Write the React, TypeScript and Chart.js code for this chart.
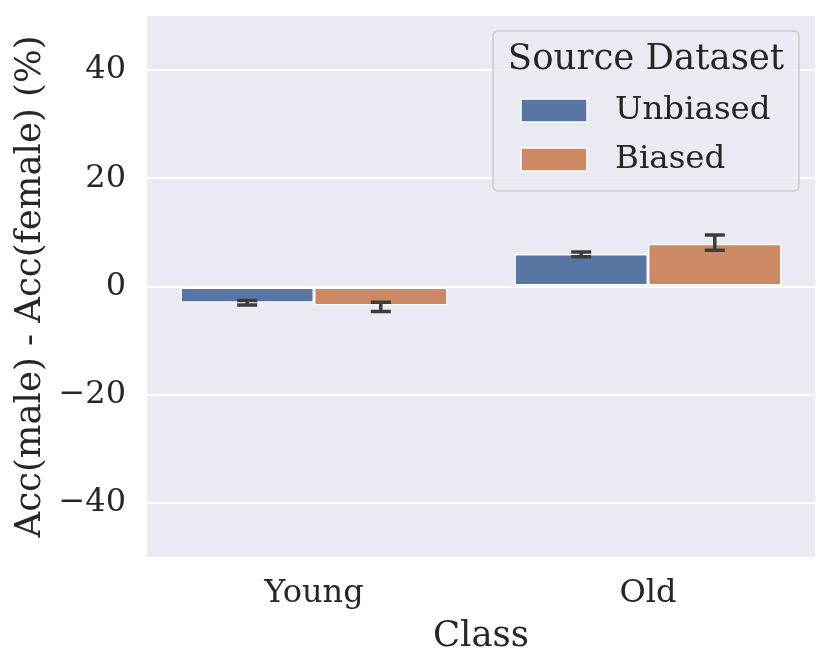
import { useEffect, useRef } from "react";
import { Chart, registerables } from "chart.js";

Chart.register(...registerables);

const categories = ["Young", "Old"];
const seriesNames = ["Unbiased", "Biased"];
const unbiased = [-3.0, 6.0];
const unbiasedLow = [-3.4, 5.5];
const unbiasedHigh = [-2.6, 6.4];
const biased = [-3.5, 7.9];
const biasedLow = [-4.6, 6.7];
const biasedHigh = [-2.9, 9.5];
const yTicks = [-40, -20, 0, 20, 40];

const errLow = [unbiasedLow, biasedLow];
const errHigh = [unbiasedHigh, biasedHigh];
const colors = ["#5975a4", "#cc8963"];
const FONT = "'DejaVu Serif', serif";

const bgPlugin = {
  id: "bg",
  beforeDraw(chart: any) {
    const { ctx, chartArea: a } = chart;
    ctx.save();
    ctx.fillStyle = "#eaeaf2";
    ctx.fillRect(a.left, a.top, a.right - a.left, a.bottom - a.top);
    ctx.restore();
  },
};

const errorBars = {
  id: "errorBars",
  afterDatasetsDraw(chart: any) {
    const { ctx } = chart;
    const y = chart.scales.y;
    ctx.save();
    ctx.strokeStyle = "#3d3d3d";
    ctx.lineWidth = 3.5;
    ctx.lineCap = "butt";
    chart.data.datasets.forEach((_: any, i: number) => {
      const meta = chart.getDatasetMeta(i);
      meta.data.forEach((bar: any, j: number) => {
        const lo = y.getPixelForValue(errLow[i][j]);
        const hi = y.getPixelForValue(errHigh[i][j]);
        ctx.beginPath();
        ctx.moveTo(bar.x, lo);
        ctx.lineTo(bar.x, hi);
        ctx.moveTo(bar.x - 10, lo);
        ctx.lineTo(bar.x + 10, lo);
        ctx.moveTo(bar.x - 10, hi);
        ctx.lineTo(bar.x + 10, hi);
        ctx.stroke();
      });
    });
    ctx.restore();
  },
};

const legendBox = {
  id: "legendBox",
  afterDraw(chart: any) {
    const { ctx, chartArea: a } = chart;
    const left = a.right - 322;
    const top = a.top + 15;
    const w = 306;
    const h = 160;
    ctx.save();
    ctx.fillStyle = "rgba(234,234,242,0.8)";
    ctx.strokeStyle = "#cccccc";
    ctx.lineWidth = 1.5;
    ctx.beginPath();
    ctx.roundRect(left, top, w, h, 5);
    ctx.fill();
    ctx.stroke();
    ctx.fillStyle = "#262626";
    ctx.textBaseline = "middle";
    ctx.textAlign = "center";
    ctx.font = `35.5px ${FONT}`;
    ctx.fillText("Source Dataset", left + w / 2, top + 29);
    ctx.textAlign = "left";
    ctx.font = `32.5px ${FONT}`;
    seriesNames.forEach((name, i) => {
      const cy = top + 79 + i * 49;
      ctx.fillStyle = colors[i];
      ctx.fillRect(left + 28, cy - 11, 66, 23);
      ctx.strokeStyle = "#ffffff";
      ctx.lineWidth = 1.5;
      ctx.strokeRect(left + 28, cy - 11, 66, 23);
      ctx.fillStyle = "#262626";
      ctx.fillText(name, left + 122, cy + 1);
    });
    ctx.restore();
  },
};

export default function App() {
  const ref = useRef<HTMLCanvasElement | null>(null);
  const chartRef = useRef<Chart | null>(null);

  useEffect(() => {
    if (!ref.current) return;
    if (chartRef.current) chartRef.current.destroy();
    chartRef.current = new Chart(ref.current, {
      type: "bar",
      data: {
        labels: categories,
        datasets: [
          {
            label: seriesNames[0],
            data: unbiased,
            backgroundColor: colors[0],
            borderColor: "#ffffff",
            borderWidth: 1.5,
            borderSkipped: false,
          },
          {
            label: seriesNames[1],
            data: biased,
            backgroundColor: colors[1],
            borderColor: "#ffffff",
            borderWidth: 1.5,
            borderSkipped: false,
          },
        ],
      },
      options: {
        animation: false,
        responsive: true,
        maintainAspectRatio: false,
        layout: { padding: { top: 16, right: 15, left: 0, bottom: 0 } },
        datasets: { bar: { categoryPercentage: 0.8, barPercentage: 1 } },
        plugins: { legend: { display: false }, tooltip: { enabled: false } },
        scales: {
          x: {
            grid: { display: false },
            border: { display: false },
            ticks: { color: "#262626", font: { family: FONT, size: 32 }, padding: 9 },
            title: {
              display: true,
              text: "Class",
              color: "#262626",
              font: { family: FONT, size: 35.5 },
              padding: { top: 0, bottom: 10 },
            },
            afterFit(s: any) {
              s.height = 111;
              s.paddingLeft = 0;
              s.paddingRight = 0;
            },
          },
          y: {
            min: -50,
            max: 50,
            afterBuildTicks(s: any) {
              s.ticks = yTicks.map((v) => ({ value: v }));
            },
            grid: { color: "#ffffff", lineWidth: 2, drawTicks: false },
            border: { display: false },
            ticks: {
              color: "#262626",
              font: { family: FONT, size: 32 },
              padding: 21,
              callback: (v: any) => (v < 0 ? "\u2212" + Math.abs(v) : String(v)),
            },
            title: {
              display: true,
              text: "Acc(male) - Acc(female) (%)",
              color: "#262626",
              font: { family: FONT, size: 35.5 },
              padding: { top: 9, bottom: 0 },
            },
            afterFit(s: any) {
              s.width = 147;
              s.paddingTop = 0;
              s.paddingBottom = 0;
            },
          },
        },
      },
      plugins: [bgPlugin, errorBars, legendBox],
    });
    return () => {
      if (chartRef.current) chartRef.current.destroy();
    };
  }, []);

  return (
    <div
      style={{
        position: "fixed",
        left: 0,
        top: 0,
        width: 830,
        height: 668,
        background: "#ffffff",
      }}
    >
      <canvas ref={ref}></canvas>
    </div>
  );
}
